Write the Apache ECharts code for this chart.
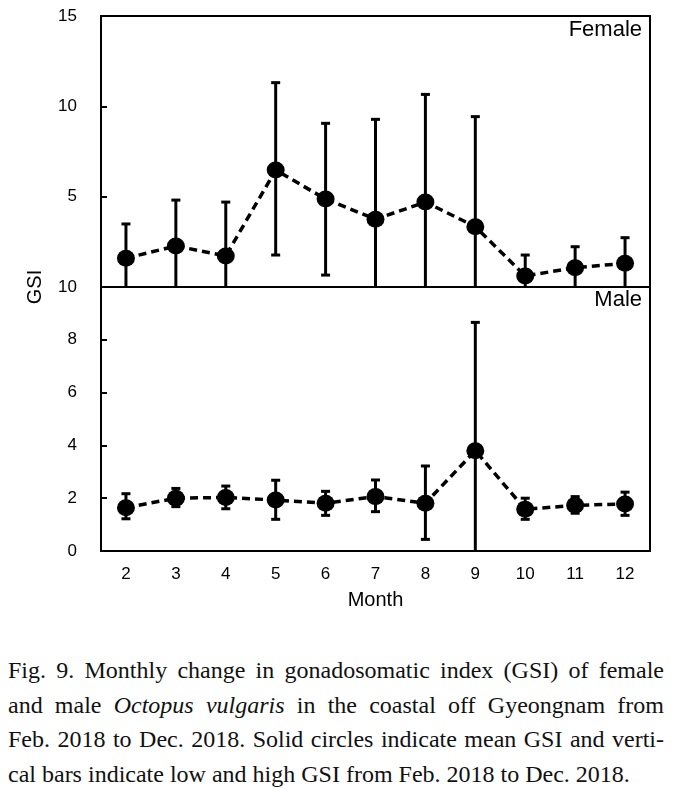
<!DOCTYPE html>
<html>
  <head>
    <meta charset="UTF-8">
    <title>GSI monthly</title>
    <script src="https://cdn.jsdelivr.net/npm/echarts@6/dist/echarts.min.js"></script>
    <style>
      body { margin: 0; background: #fff; }
      #main { width: 674px; height: 640px; }
      #cap {
        position: absolute; left: 8px; top: 653px;
        width: 656px;
        font-family: 'Liberation Serif', 'Times New Roman', serif;
        font-size: 24px; line-height: 34.5px; color: #111;
      }
      #cap div { white-space: nowrap; }
      #cap .j { text-align: justify; text-align-last: justify; word-spacing: -2px; }
    </style>
  </head>
  <body>
    <div id="main"></div>
    <div id="cap">
      <div class="j">Fig. 9. Monthly change in gonadosomatic index (GSI) of female</div>
      <div class="j">and male <i>Octopus vulgaris</i> in the coastal off Gyeongnam from</div>
      <div class="j">Feb. 2018 to Dec. 2018. Solid circles indicate mean GSI and verti-</div>
      <div>cal bars indicate low and high GSI from Feb. 2018 to Dec. 2018.</div>
    </div>
    <script>
// data
var months = ['2', '3', '4', '5', '6', '7', '8', '9', '10', '11', '12'];

var femaleMean = [1.59, 2.27, 1.72, 6.47, 4.87, 3.75, 4.70, 3.34, 0.61, 1.07, 1.31];
var femaleLow  = [0, 0, 0, 1.77, 0.66, 0, 0, 0, 0, 0, 0];
var femaleHigh = [3.49, 4.81, 4.70, 11.31, 9.06, 9.28, 10.66, 9.43, 1.77, 2.23, 2.73];

var maleMean = [1.64, 2.00, 2.03, 1.93, 1.81, 2.06, 1.81, 3.80, 1.58, 1.73, 1.78];
var maleLow  = [1.22, 1.68, 1.60, 1.20, 1.35, 1.49, 0.44, 0, 1.20, 1.43, 1.35];
var maleHigh = [2.17, 2.37, 2.46, 2.68, 2.26, 2.69, 3.22, 8.66, 2.00, 2.06, 2.23];

var femaleTicks = [0, 5, 10, 15];
var maleTicks = [0, 2, 4, 6, 8, 10];

function errData(low, high) {
    var out = [];
    for (var i = 0; i < low.length; i++) {
        out.push([i, low[i], high[i]]);
    }
    return out;
}

// vertical bar with caps
function renderErr(params, api) {
    var x = api.value(0);
    var lo = api.coord([x, api.value(1)]);
    var hi = api.coord([x, api.value(2)]);
    var cap = 4.5;
    var kids = [
        { type: 'line', shape: { x1: lo[0], y1: lo[1], x2: hi[0], y2: hi[1] },
          style: { stroke: '#000', lineWidth: 3 } },
        { type: 'line', shape: { x1: hi[0] - cap, y1: hi[1], x2: hi[0] + cap, y2: hi[1] },
          style: { stroke: '#000', lineWidth: 3 } }
    ];
    if (api.value(1) > 0) {
        kids.push({ type: 'line', shape: { x1: lo[0] - cap, y1: lo[1], x2: lo[0] + cap, y2: lo[1] },
          style: { stroke: '#000', lineWidth: 3 } });
    }
    return { type: 'group', children: kids };
}

function xAx(idx, showLabel) {
    return {
        type: 'category', gridIndex: idx, data: months, boundaryGap: true,
        axisLine: { lineStyle: { color: '#000', width: 2 } },
        axisTick: { inside: true, length: 6, interval: 0, lineStyle: { color: '#000', width: 2 } },
        axisLabel: { show: showLabel, fontSize: 17, color: '#000', margin: 15 },
        splitLine: { show: false }
    };
}

function yAx(idx, ticks, hideMin) {
    return {
        type: 'value', gridIndex: idx,
        min: ticks[0], max: ticks[ticks.length - 1], interval: ticks[1] - ticks[0],
        axisLine: { show: true, lineStyle: { color: '#000', width: 2 } },
        axisTick: { show: true, inside: true, length: 6, lineStyle: { color: '#000', width: 2 } },
        axisLabel: { fontSize: 17, color: '#000', margin: 24, showMinLabel: !hideMin },
        splitLine: { show: false }
    };
}

var lineStyle = { color: '#000', width: 3.5, type: [8, 5] };

var myChart = echarts.init(document.getElementById('main'));
var xM = xAx(1, true);
xM.name = 'Month';
xM.nameLocation = 'middle';
xM.nameGap = 39;
xM.nameTextStyle = { fontSize: 20, color: '#000' };

var option = {
    animation: false,
    textStyle: { fontFamily: 'Liberation Sans, Arial, sans-serif' },
    grid: [
        { left: 101, top: 16, width: 549, height: 271, show: true, borderColor: '#000', borderWidth: 2 },
        { left: 101, top: 287, width: 549, height: 264, show: true, borderColor: '#000', borderWidth: 2 }
    ],
    xAxis: [xAx(0, false), xM],
    yAxis: [yAx(0, femaleTicks, true), yAx(1, maleTicks, false)],
    graphic: [
        { type: 'text', x: 35, y: 287, rotation: Math.PI / 2,
          style: { text: 'GSI', fontSize: 20, fontFamily: 'Liberation Sans, Arial, sans-serif', fill: '#000',
                   align: 'center', verticalAlign: 'middle', textAlign: 'center', textVerticalAlign: 'middle' } },
        { type: 'text', x: 642, y: 30,
          style: { text: 'Female', fontSize: 22, fontFamily: 'Liberation Sans, Arial, sans-serif', fill: '#000',
                   align: 'right', verticalAlign: 'middle', textAlign: 'right', textVerticalAlign: 'middle' } },
        { type: 'text', x: 642, y: 300,
          style: { text: 'Male', fontSize: 22, fontFamily: 'Liberation Sans, Arial, sans-serif', fill: '#000',
                   align: 'right', verticalAlign: 'middle', textAlign: 'right', textVerticalAlign: 'middle' } }
    ],
    series: [
        {
            name: 'Female range', type: 'custom', xAxisIndex: 0, yAxisIndex: 0,
            renderItem: renderErr, data: errData(femaleLow, femaleHigh),
            encode: { x: 0, y: [1, 2] }, z: 2
        },
        {
            name: 'Female', type: 'line', xAxisIndex: 0, yAxisIndex: 0, data: femaleMean,
            symbol: 'circle', symbolSize: [18, 17], itemStyle: { color: '#000' },
            lineStyle: lineStyle, z: 3
        },
        {
            name: 'Male range', type: 'custom', xAxisIndex: 1, yAxisIndex: 1,
            renderItem: renderErr, data: errData(maleLow, maleHigh),
            encode: { x: 0, y: [1, 2] }, z: 2
        },
        {
            name: 'Male', type: 'line', xAxisIndex: 1, yAxisIndex: 1, data: maleMean,
            symbol: 'circle', symbolSize: [18, 17], itemStyle: { color: '#000' },
            lineStyle: lineStyle, z: 3
        }
    ]
};

myChart.setOption(option);
    </script>
  </body>
</html>
